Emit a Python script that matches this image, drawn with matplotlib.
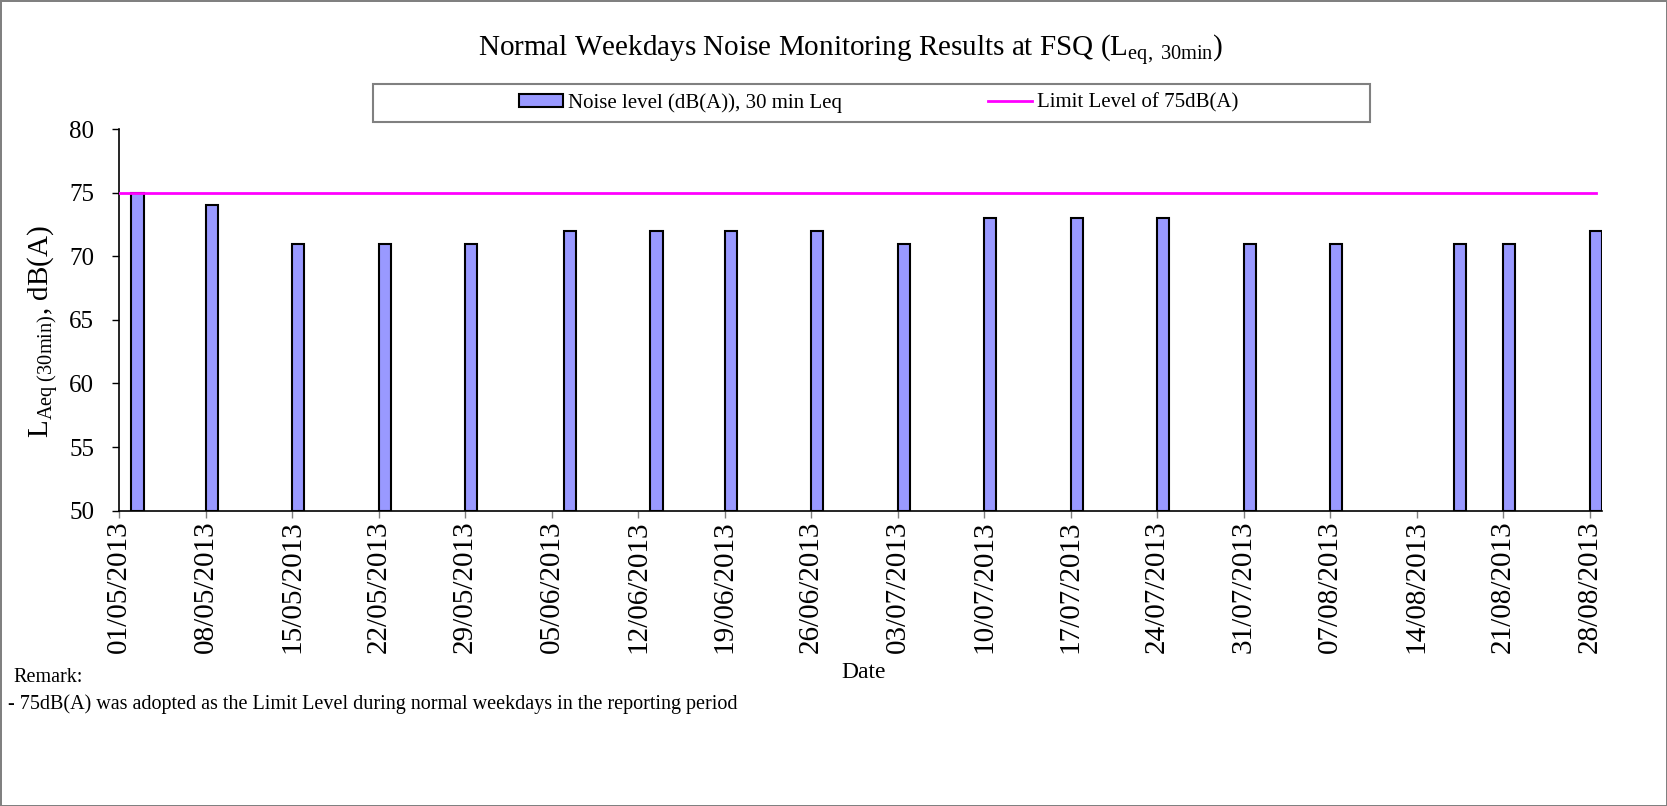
import numpy as np
import pandas as pd
import matplotlib
matplotlib.use('Agg')
import matplotlib.pyplot as plt
import matplotlib.dates as mdates
from matplotlib.patches import Rectangle

# Monitoring dates and 30-min Leq readings
dates = ['02/05/2013', '08/05/2013', '15/05/2013', '22/05/2013', '29/05/2013',
         '06/06/2013', '13/06/2013', '19/06/2013', '26/06/2013', '03/07/2013',
         '10/07/2013', '17/07/2013', '24/07/2013', '31/07/2013', '07/08/2013',
         '17/08/2013', '21/08/2013', '28/08/2013']
noise_levels = [75, 74, 71, 71, 71, 72, 72, 72, 72, 71, 73, 73, 73, 71, 71, 71, 71, 72]
limit_level = 75

axis_start = '01/05/2013'
axis_end = '29/08/2013'
tick_dates = pd.date_range(pd.to_datetime(axis_start, dayfirst=True),
                           pd.to_datetime('28/08/2013', dayfirst=True), freq='7D')

plt.rcParams['font.family'] = ['Liberation Serif', 'DejaVu Serif']
plt.rcParams['mathtext.fontset'] = 'custom'
plt.rcParams['mathtext.rm'] = 'Liberation Serif'
plt.rcParams['mathtext.it'] = 'Liberation Serif:italic'

x = mdates.date2num(pd.to_datetime(dates, dayfirst=True))
x0 = mdates.date2num(pd.to_datetime(axis_start, dayfirst=True))
x1 = mdates.date2num(pd.to_datetime(axis_end, dayfirst=True))

fig = plt.figure(figsize=(16.67, 8.06), dpi=100, edgecolor='#808080', linewidth=2)
ax = fig.add_axes([119 / 1667, 1 - 510.7 / 806, 1483 / 1667, 381.7 / 806])

bars = ax.bar(x, np.array(noise_levels) - 50, bottom=50, width=1.0, align='edge',
              color='#9999FF', edgecolor='black', linewidth=1.5,
              label='Noise level (dB(A)), 30 min Leq', zorder=2)
line, = ax.plot([x0, x[-1] + 0.5], [limit_level, limit_level], color='#FF00FF',
                linewidth=2, label='Limit Level of 75dB(A)', zorder=3)

ax.set_xlim(x0, x1)
ax.set_ylim(50, 80)
ax.set_yticks(range(50, 81, 5))
ax.set_xticks(mdates.date2num(tick_dates))
ax.set_xticklabels([d.strftime('%d/%m/%Y') for d in tick_dates], rotation=90)
ax.tick_params(axis='both', direction='out', length=5, width=1)
ax.tick_params(axis='y', labelsize=18, pad=13)
ax.tick_params(axis='x', labelsize=21, colors='#808080', labelcolor='black', pad=2)

for side in ['top', 'right']:
    ax.spines[side].set_visible(False)
ax.spines['left'].set_linewidth(1.2)
ax.spines['bottom'].set_linewidth(1.2)

ax.set_ylabel(r'L$_{\mathrm{Aeq\ (30min)}}$, dB(A)', fontsize=21)
ax.yaxis.set_label_coords(-0.040, 0.47)
fig.text(0.518, 1 - 672 / 806, 'Date', fontsize=17, ha='center', va='center')

fig.text(0.51, 0.937, r'Normal Weekdays Noise Monitoring Results at FSQ (L$_{\mathrm{eq,\ 30min}}$)',
         fontsize=21, ha='center', va='center')

# legend box
fig.add_artist(Rectangle((373 / 1667, 1 - 122 / 806), 997 / 1667, 38 / 806,
                         transform=fig.transFigure, facecolor='white',
                         edgecolor='#808080', linewidth=1.5))
fig.legend(handles=[bars, line], loc='center', bbox_to_anchor=(879 / 1667, 1 - 103 / 806),
           ncol=2, frameon=False, fontsize=15, handlelength=2.1, handletextpad=0.25,
           columnspacing=7.0, handleheight=0.6)

fig.text(13 / 1667, 1 - 678 / 806, 'Remark:', fontsize=14.5, ha='left', va='center')
fig.text(8 / 1667, 1 - 704 / 806,
         '- 75dB(A) was adopted as the Limit Level during normal weekdays in the reporting period',
         fontsize=14.5, ha='left', va='center')

fig.savefig('out.png', dpi=100)
